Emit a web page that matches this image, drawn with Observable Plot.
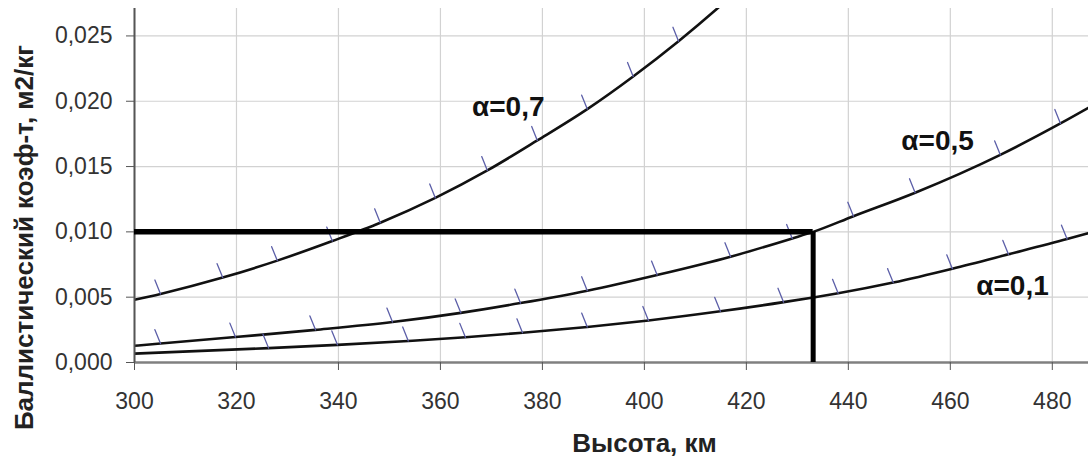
<!DOCTYPE html>
<html>
<head>
<meta charset="utf-8">
<script src="https://cdn.jsdelivr.net/npm/d3@7"></script>
<script src="https://cdn.jsdelivr.net/npm/@observablehq/plot@0.6"></script>
<style>
  html, body { margin: 0; padding: 0; background: #fff; }
</style>
</head>
<body>
<div id="chart"></div>
<script>
// ---- Data ----
// Altitude, km (x) and ballistic coefficient, m2/kg (y) for each curve
const alt07 = [300, 305.1, 317.3, 328.0, 338.8, 348.2, 359.0, 369.2, 379.0, 388.8, 397.8, 406.7, 414.3, 420];
const val07 = [0.0048, 0.00525, 0.0065, 0.0078, 0.0093, 0.0107, 0.0126, 0.0147, 0.0170, 0.0194, 0.0219, 0.0246, 0.0271, 0.0291];
const hatch07 = [305.1, 317.3, 328.0, 338.8, 348.2, 359.0, 369.2, 379.0, 388.8, 397.8, 406.7];

const alt05 = [300, 305.1, 319.8, 335.5, 350.6, 364.0, 375.7, 388.8, 402.5, 416.9, 429.0, 433.1, 441.0, 453.1, 469.8, 481.6, 487.1];
const val05 = [0.00128, 0.00145, 0.00195, 0.0025, 0.0031, 0.0038, 0.00455, 0.0055, 0.0067, 0.0081, 0.0095, 0.0100, 0.0112, 0.0130, 0.0159, 0.0183, 0.0195];
const hatch05 = [305.1, 319.8, 335.5, 350.6, 364.0, 375.7, 388.8, 402.5, 416.9, 429.0, 441.0, 453.1, 469.8, 481.6];

const alt01 = [300, 326.3, 339.8, 353.7, 364.9, 376.1, 388.8, 400.8, 414.9, 427.3, 433.1, 438.0, 448.8, 460.4, 471.4, 482.9, 487.1];
const val01 = [0.00068, 0.00110, 0.00135, 0.00165, 0.00193, 0.00228, 0.00272, 0.00322, 0.00392, 0.00462, 0.00498, 0.00530, 0.00612, 0.00718, 0.00828, 0.00945, 0.00990];
const hatch01 = [326.3, 339.8, 353.7, 364.9, 376.1, 388.8, 400.8, 414.9, 427.3, 438.0, 448.8, 460.4, 471.4, 482.9];

// Series labels and where they sit (data coords)
const seriesLabels = ["α=0,7", "α=0,5", "α=0,1"];
const labelAlt = [373.3, 457.5, 472.2];
const labelVal = [0.01953, 0.01692, 0.00582];

// Reference (design point) lines
const refAlt = 433.1;
const refVal = 0.010;

// Axes
const xDomain = [300, 487.1];
const yDomain = [0, 0.0271];
const xTicks = [300, 320, 340, 360, 380, 400, 420, 440, 460, 480];
const yTicks = [0, 0.005, 0.010, 0.015, 0.020, 0.025];
const xTitle = "Высота, км";
const yTitle = "Баллистический коэф-т, м2/кг";

// ---- Build tables ----
const series = [
  {name: "0,7", alt: alt07, val: val07, hatch: hatch07},
  {name: "0,5", alt: alt05, val: val05, hatch: hatch05},
  {name: "0,1", alt: alt01, val: val01, hatch: hatch01}
];
const curveRows = series.flatMap(s => s.alt.map((a, i) => ({series: s.name, x: a, y: s.val[i]})));
const hatchRows = series.flatMap(s => s.hatch.map(h => ({series: s.name, x: h, y: s.val[s.alt.indexOf(h)]})));
const labelRows = seriesLabels.map((t, i) => ({text: t, x: labelAlt[i], y: labelVal[i]}));

const fmtY = d => d3.format(".3f")(d).replace(".", ",");
const tickShape = {draw(context, l) { context.moveTo(0, 0); context.lineTo(0, -l); }};

const chart = Plot.plot({
  width: 1088,
  height: 457,
  marginLeft: 134,
  marginRight: 0,
  marginTop: 8,
  marginBottom: 95,
  style: {fontFamily: "'Liberation Sans', Arial, sans-serif", background: "#fff", overflow: "visible"},
  x: {domain: xDomain},
  y: {domain: yDomain},
  marks: [
    Plot.gridX(xTicks, {stroke: "#d2d2d2", strokeOpacity: 1, strokeWidth: 1.2}),
    Plot.gridY(yTicks.filter(d => d > 0), {stroke: "#d2d2d2", strokeOpacity: 1, strokeWidth: 1.2}),
    Plot.line(curveRows, {x: "x", y: "y", z: "series", stroke: "#111", strokeWidth: 2.6, curve: "monotone-x", clip: true}),
    Plot.vector(hatchRows, {x: "x", y: "y", length: 15, rotate: -22, anchor: "start", shape: tickShape, stroke: "#5c5fa8", strokeWidth: 1.3}),
    Plot.ruleY([0], {stroke: "#808080", strokeWidth: 2.5}),
    Plot.ruleX([xDomain[0]], {stroke: "#555", strokeWidth: 2}),
    Plot.ruleY([refVal], {x1: xDomain[0], x2: refAlt, stroke: "#000", strokeWidth: 5.5}),
    Plot.ruleX([refAlt], {y1: 0, y2: refVal, stroke: "#000", strokeWidth: 5}),
    Plot.axisX(xTicks, {anchor: "bottom", tickSize: 8, tickPadding: 22, tickFormat: d => String(d), fontSize: 23, stroke: "#555", fill: "#333", label: null}),
    Plot.axisY(yTicks, {anchor: "left", tickSize: 8, tickPadding: 14, tickFormat: fmtY, fontSize: 23, stroke: "#555", fill: "#333", label: null}),
    Plot.text(labelRows, {x: "x", y: "y", text: "text", fontSize: 28, fontWeight: "bold", fill: "#111", textAnchor: "middle", lineAnchor: "middle"}),
    Plot.text([xTitle], {text: d => d, frameAnchor: "bottom", dx: 33, dy: 81, fontSize: 26, fontWeight: "bold", fill: "#222", textAnchor: "middle", lineAnchor: "middle"}),
    Plot.text([yTitle], {text: d => d, frameAnchor: "left", dx: -110, dy: 52, rotate: -90, fontSize: 26, fontWeight: "bold", fill: "#222", textAnchor: "middle", lineAnchor: "middle"})
  ]
});
document.getElementById("chart").appendChild(chart);
</script>
</body>
</html>
